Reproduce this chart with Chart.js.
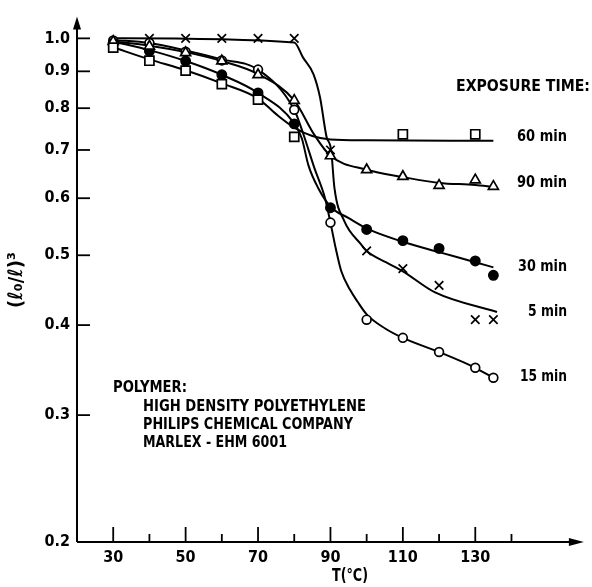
<!DOCTYPE html>
<html><head><meta charset="utf-8">
<script src="https://cdn.jsdelivr.net/npm/chart.js@4"></script>
<style>html,body{margin:0;padding:0;background:#fff}</style>
</head><body>
<div style="width:592px;height:587px;position:relative"><canvas id="c"></canvas></div>
<script>
// ---- data ----
const xTickVals = [30,40,50,60,70,80,90,100,110,120,130,140];
const xLabelVals = [30,50,70,90,110,130];
const yTickVals = [0.2,0.3,0.4,0.5,0.6,0.7,0.8,0.9,1.0];

// measured points (T in °C, (l0/l)^3)
const t5 = [40,50,60,70,80,90,100,110,120,130,135];
const v5 = [1.0,1.0,1.0,1.0,1.0,0.70,0.507,0.479,0.454,0.407,0.407];
const t15 = [30,40,50,60,70,80,90,100,110,120,130,135];
const v15 = [0.993,0.985,0.958,0.932,0.905,0.796,0.555,0.407,0.384,0.367,0.349,0.338];
const t30 = [30,40,50,60,70,80,90,100,110,120,130,135];
const v30 = [0.985,0.96,0.93,0.89,0.84,0.761,0.582,0.543,0.524,0.511,0.491,0.469];
const t60 = [30,40,50,60,70,80,110,130];
const v60 = [0.971,0.931,0.902,0.864,0.822,0.730,0.736,0.736];
const t90 = [30,40,50,60,70,80,90,100,110,120,130,135];
const v90 = [0.99,0.975,0.955,0.93,0.89,0.82,0.687,0.657,0.643,0.625,0.636,0.623];

// smooth curves
const c5x = [30,80,82.4,85.3,87.1,88.9,90.2,91.1,93.8,98.4,100,105.3,110,118.9,136];
const c5y = [1.0,0.987,0.941,0.892,0.829,0.731,0.699,0.620,0.558,0.518,0.507,0.489,0.475,0.444,0.417];
const c15x = [30,40,50,60,70,80,82.3,85.6,88.5,90,91.5,93,95.5,97.5,100,105,110,120,130,135];
const c15y = [0.995,0.985,0.962,0.935,0.905,0.796,0.742,0.66,0.60,0.555,0.51,0.475,0.447,0.431,0.414,0.396,0.384,0.367,0.349,0.338];
const c30x = [30,40,50,60,70,80,82.1,83.9,86.6,90.3,94.8,100.6,110,120,130,135];
const c30y = [0.99,0.963,0.93,0.89,0.84,0.762,0.726,0.667,0.620,0.582,0.564,0.543,0.522,0.505,0.489,0.481];
const c60x = [30,40,50,60,70,75,80,85,90,100,135];
const c60y = [0.972,0.935,0.903,0.866,0.825,0.785,0.752,0.732,0.724,0.722,0.721];
const c90x = [30,40,50,60,70,80,85.6,90,100,110,120,130,135];
const c90y = [0.99,0.977,0.957,0.93,0.892,0.82,0.734,0.687,0.657,0.642,0.630,0.626,0.622];

const FONT = "'Liberation Sans Narrow','DejaVu Sans Condensed','Roboto Condensed',sans-serif";
const zip = (a,b) => a.map((v,i)=>({x:v,y:b[i]}));

function curve(xs, ys){
  return {type:'line', data:zip(xs,ys), borderColor:'#000', borderWidth:2, pointRadius:0,
          cubicInterpolationMode:'monotone', fill:false, order:2};
}
function marks(xs, ys, style, fill, r){
  return {type:'scatter', data:zip(xs,ys), showLine:false, pointStyle:style, pointRadius:r,
          pointBackgroundColor:fill, pointBorderColor:'#000', pointBorderWidth:1.7, order:1};
}

const axesPlugin = {
  id:'axes',
  beforeDatasetsDraw(chart){
    const {ctx, chartArea:{left,top,right,bottom}, scales:{x,y}} = chart;
    ctx.save();
    ctx.strokeStyle='#000'; ctx.fillStyle='#000'; ctx.lineWidth=2;
    ctx.beginPath();
    ctx.moveTo(left, bottom); ctx.lineTo(left, top+8);
    ctx.moveTo(left, bottom); ctx.lineTo(right-8, bottom);
    ctx.stroke();
    ctx.beginPath(); ctx.moveTo(left, top); ctx.lineTo(left-4, top+13); ctx.lineTo(left+4, top+13); ctx.closePath(); ctx.fill();
    ctx.beginPath(); ctx.moveTo(right, bottom); ctx.lineTo(right-15, bottom-4); ctx.lineTo(right-15, bottom+4); ctx.closePath(); ctx.fill();
    ctx.lineWidth=1.8;
    yTickVals.forEach(v=>{
      if (v===0.2) return;
      const py = y.getPixelForValue(v);
      ctx.beginPath(); ctx.moveTo(left, py); ctx.lineTo(left+13, py); ctx.stroke();
    });
    xTickVals.forEach(v=>{
      const px = x.getPixelForValue(v);
      const len = xLabelVals.includes(v) ? 15 : 8;
      ctx.beginPath(); ctx.moveTo(px, bottom); ctx.lineTo(px, bottom-len); ctx.stroke();
    });
    ctx.restore();
  },
  afterDraw(chart){
    const {ctx} = chart;
    ctx.save();
    ctx.fillStyle='#000';
    ctx.textBaseline='middle';
    ctx.textAlign='left';
    ctx.font = "bold 16px "+FONT;
    const t = (s,x,y,w)=>ctx.fillText(s,x,y,w);
    t('EXPOSURE TIME:', 456, 87, 134);
    t('60 min', 517, 137, 50);
    t('90 min', 517, 183, 50);
    t('30 min', 518, 267, 49);
    t('5 min', 528, 312, 39);
    t('15 min', 520, 377, 47);
    t('POLYMER:', 113, 388, 74);
    t('HIGH DENSITY POLYETHYLENE', 143, 407, 223);
    t('PHILIPS CHEMICAL COMPANY', 143, 425, 210);
    t('MARLEX - EHM 6001', 143, 443, 144);
    ctx.textAlign='center';
    ctx.font = "bold 17px "+FONT;
    t('T(°C)', 350, 577, 36);
    ctx.translate(17, 280);
    ctx.rotate(-Math.PI/2);
    ctx.font = "bold 20px "+FONT;
    t('(ℓ₀/ℓ)³', 0, 0, 56);
    ctx.restore();
  }
};

new Chart(document.getElementById('c'), {
  data:{datasets:[
    curve(c5x,c5y), curve(c15x,c15y), curve(c30x,c30y), curve(c60x,c60y), curve(c90x,c90y),
    marks(t60,v60,'rect','#fff',6.4),
    marks(t90,v90,'triangle','#fff',5.8),
    marks(t30,v30,'circle','#000',4.6),
    marks(t15,v15,'circle','#fff',4.4),
    marks(t5,v5,'crossRot','#fff',6),
  ]},
  options:{
    responsive:true, maintainAspectRatio:false, animation:false,
    layout:{padding:{top:12,right:2,left:0,bottom:0}},
    plugins:{legend:{display:false}, tooltip:{enabled:false}},
    scales:{
      x:{type:'linear', min:20, max:160,
        afterBuildTicks:s=>{s.ticks = xLabelVals.map(v=>({value:v}));},
        afterFit:s=>{s.height=45;},
        grid:{display:false, drawTicks:false}, border:{display:false},
        ticks:{padding:6, color:'#000', maxRotation:0, autoSkip:false,
          font:{family:FONT, size:16, weight:'bold'}, callback:v=>String(v)}},
      y:{type:'logarithmic', min:0.2, max:1.072,
        afterBuildTicks:s=>{s.ticks = yTickVals.map(v=>({value:v}));},
        afterFit:s=>{s.width=77;},
        grid:{display:false, drawTicks:false}, border:{display:false},
        ticks:{padding:7, color:'#000', autoSkip:false,
          font:{family:FONT, size:16, weight:'bold'}, callback:v=>Number(v).toFixed(1)}}
    }
  },
  plugins:[axesPlugin]
});
</script>
</body></html>
